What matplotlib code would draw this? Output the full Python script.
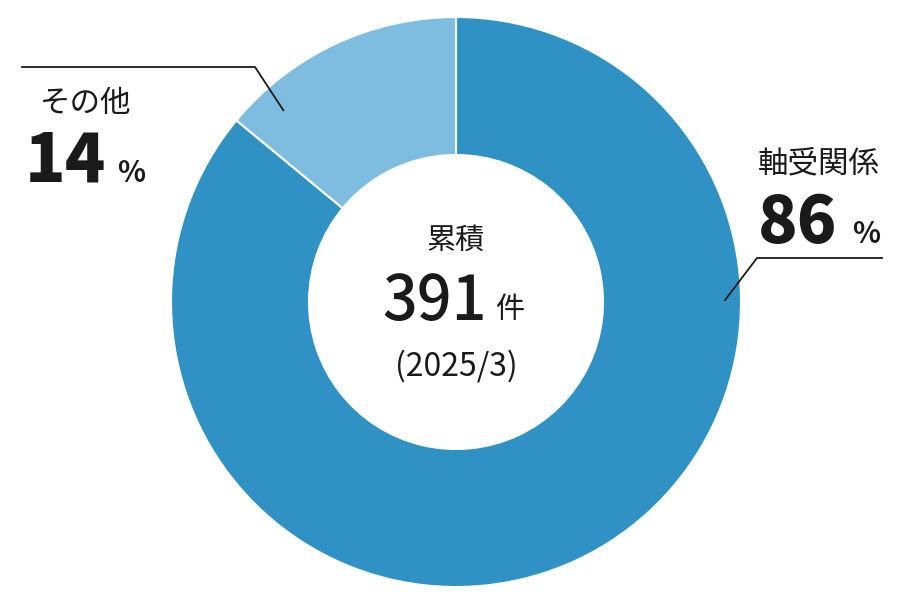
import matplotlib.pyplot as plt
import numpy as np

labels = ["軸受関係", "その他"]
shares = [86, 14]
colors = ["#3092c4", "#7fbde0"]
total_count = 391
count_unit = "件"
center_title = "累積"
as_of = "(2025/3)"

FONT = ["Noto Sans CJK JP", "DejaVu Sans"]
INK = "#1a1a1a"

W, H = 900, 600
cx, cy = 456, H - 302
r_out, r_in = 285, 147

fig = plt.figure(figsize=(9, 6), dpi=100)
ax = fig.add_axes([0, 0, 1, 1])

wedges, _ = ax.pie(
    shares,
    colors=colors,
    startangle=90,
    counterclock=False,
    radius=r_out,
    center=(cx, cy),
    wedgeprops=dict(width=r_out - r_in, edgecolor="white", linewidth=1.5),
    frame=True,
)
ax.set_xlim(0, W)
ax.set_ylim(0, H)
ax.set_aspect("equal")
ax.axis("off")


def ring_point(angle_deg, r):
    a = np.deg2rad(angle_deg)
    return cx + r * np.cos(a), cy + r * np.sin(a)


# leader lines
px, py = ring_point(0.4, 269)
ax.plot([px, 757, 882], [py, H - 258, H - 258], color=INK, lw=1.3)
px, py = ring_point(132, 258)
ax.plot([px, 255, 22], [py, H - 67, H - 67], color=INK, lw=1.3)

# right label
ax.text(819, H - 164, labels[0], fontsize=22, family=FONT, color=INK,
        ha="center", va="center")
ax.text(798, H - 243, f"{shares[0]}", fontsize=47, family=FONT, weight="black",
        color=INK, ha="center", va="baseline")
ax.text(866, H - 243, "%", fontsize=21, family=FONT, weight="bold",
        color=INK, ha="center", va="baseline")

# left label
ax.text(86, H - 104, labels[1], fontsize=22, family=FONT, color=INK,
        ha="center", va="center")
ax.text(65, H - 182, f"{shares[1]}", fontsize=48, family=FONT, weight="black",
        color=INK, ha="center", va="baseline")
ax.text(131, H - 182, "%", fontsize=21, family=FONT, weight="bold",
        color=INK, ha="center", va="baseline")

# center text
ax.text(cx, H - 241, center_title, fontsize=21, family=FONT, color=INK,
        ha="center", va="center")
ax.text(435, H - 320, f"{total_count}", fontsize=44, family=FONT, weight="medium",
        color=INK, ha="center", va="baseline")
ax.text(510, H - 318, count_unit, fontsize=21, family=FONT, color=INK,
        ha="center", va="baseline")
ax.text(cx, H - 366, as_of, fontsize=23, family=FONT, color=INK,
        ha="center", va="center")

fig.savefig("out.png", dpi=100, facecolor="white")
